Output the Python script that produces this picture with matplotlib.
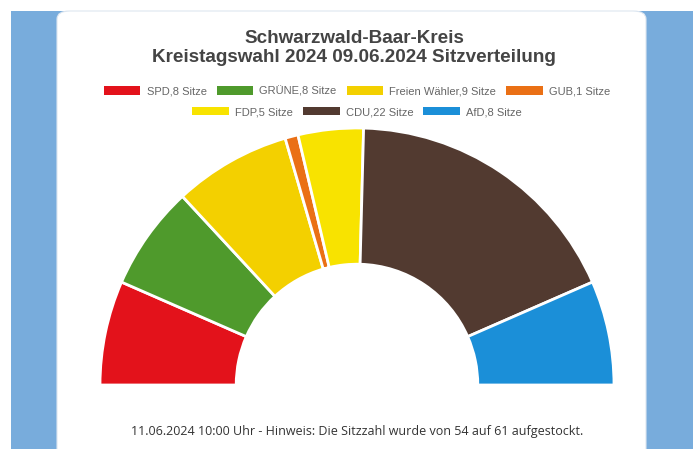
import matplotlib.pyplot as plt
from matplotlib.patches import Rectangle, FancyBboxPatch, Patch

# seat distribution
parties = ['SPD', 'GRÜNE', 'Freien Wähler', 'GUB', 'FDP', 'CDU', 'AfD']
seats = [8, 8, 9, 1, 5, 22, 8]
colors = ['#e3121b', '#4f9a2c', '#f3d000', '#ea7015', '#f8e300', '#523a30', '#1b8fd8']

title = 'Schwarzwald-Baar-Kreis\nKreistagswahl 2024 09.06.2024 Sitzverteilung'
footer = '11.06.2024 10:00 Uhr - Hinweis: Die Sitzzahl wurde von 54 auf 61 aufgestockt.'

W, H = 699, 449
fig = plt.figure(figsize=(W / 100, H / 100), dpi=100)
fig.patch.set_facecolor('white')

# blue page background and white card
fig.patches.append(Rectangle((11 / W, 0), (693 - 11) / W, (H - 11) / H,
                             transform=fig.transFigure, facecolor='#78acdc', edgecolor='none', zorder=0))
fig.patches.append(FancyBboxPatch((57 / W, -0.05), (646 - 57) / W, (H - 11) / H + 0.05,
                                  boxstyle='round,pad=0,rounding_size=0.018',
                                  transform=fig.transFigure, facecolor='white',
                                  edgecolor='#dde6f0', linewidth=0.8, zorder=1))

# half donut
cx, cy, r = 357, 449 - 385, 257
ax = fig.add_axes([(cx - r) / W, cy / H, 2 * r / W, r / H])
ax.set_zorder(2)
total = sum(seats)
wedges, _ = ax.pie(seats + [total], colors=colors + ['none'], startangle=180, counterclock=False,
                   radius=1, wedgeprops=dict(width=0.53, edgecolor='white', linewidth=2))
wedges[-1].set_edgecolor('none')
ax.set_xlim(-1, 1)
ax.set_ylim(0, 1)
ax.set_aspect('auto')
ax.axis('off')

# title
fig.text(354 / W, 1 - 48 / H, title, ha='center', va='center', fontsize=13.6, fontweight='bold',
         color='#444444', family='Liberation Sans', linespacing=1.2, zorder=3)

# legend in two centered rows
labels = [f'{p},{s} Sitze' for p, s in zip(parties, seats)]
handles = [Patch(facecolor=c, edgecolor='none') for c in colors]
kw = dict(frameon=False, handlelength=3.3, handleheight=0.8, handletextpad=0.55,
          columnspacing=0.9, loc='center', prop={'family': 'Liberation Sans', 'size': 8})
leg1 = fig.legend(handles[:4], labels[:4], ncol=4, bbox_to_anchor=(357 / W, 1 - 91 / H), **kw)
leg2 = fig.legend(handles[4:], labels[4:], ncol=3, bbox_to_anchor=(357 / W, 1 - 112 / H), **kw)
for leg in (leg1, leg2):
    leg.set_zorder(3)
    for t in leg.get_texts():
        t.set_color('#666666')

# footer note
fig.text(357 / W, 1 - 431 / H, footer, ha='center', va='center', fontsize=9,
         color='#333333', family='Open Sans', zorder=3)

fig.savefig('out.png', dpi=100)
